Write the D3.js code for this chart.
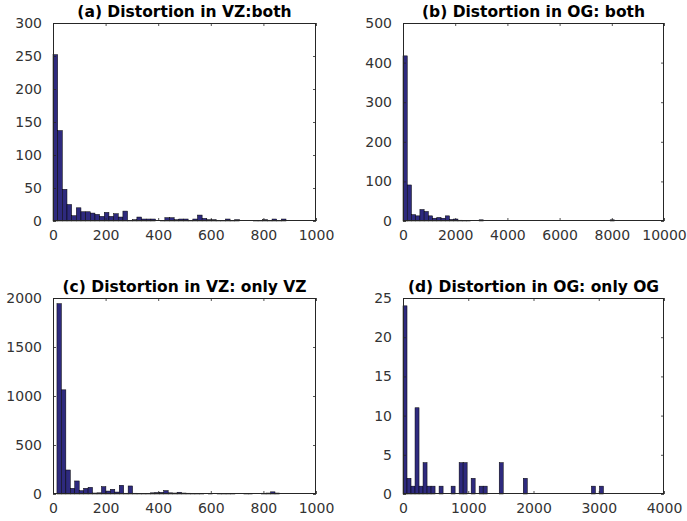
<!DOCTYPE html>
<html>
<head>
<meta charset="utf-8">
<script src="https://cdn.jsdelivr.net/npm/d3@7"></script>
<style>
  html, body { margin: 0; padding: 0; background: #fff; }
  svg { display: block; }
</style>
</head>
<body>
<svg id="chart" width="687" height="521"></svg>
<script>
// Histogram counts (50 equal-width bins each), bin ranges and axis ticks.
const titleA = "(a) Distortion in VZ:both";
const countsA = [252,137,48,25,8,20,14,14,12,10,7,13,7,11,6,15,1,2,6,3,
                 3,3,0,1,5,5,2,3,3,1,3,9,4,2,2,1,1,3,1,2,
                 0,0,0,1,1,2,1,3,1,3];
const rangeA = [0, 886];
const xTicksA = [0, 200, 400, 600, 800, 1000];
const yTicksA = [0, 50, 100, 150, 200, 250, 300];

const titleB = "(b) Distortion in OG: both";
const countsB = [417,91,16,13,29,24,13,7,9,7,13,4,5,2,1,1,0,0,3,0,
                 0,0,0,0,0,0,0,0,0,0,0,0,0,0,0,0,0,0,0,0,
                 0,0,0,0,0,0,0,0,0,3];
const rangeB = [0, 8100];
const xTicksB = [0, 2000, 4000, 6000, 8000, 10000];
const yTicksB = [0, 100, 200, 300, 400, 500];

const titleC = "(c) Distortion in VZ: only VZ";
const countsC = [1942,1063,245,58,133,34,58,68,10,12,75,30,48,20,89,8,82,8,5,5,
                 6,12,15,17,35,12,10,18,10,8,7,7,7,0,3,0,7,7,7,7,
                 0,0,6,6,0,0,8,10,22,10];
const rangeC = [15, 861];
const xTicksC = [0, 200, 400, 600, 800, 1000];
const yTicksC = [0, 500, 1000, 1500, 2000];

const titleD = "(d) Distortion in OG: only OG";
const countsD = [24,2,1,11,1,4,1,1,0,1,0,0,1,0,4,4,0,2,0,1,
                 1,0,0,0,4,0,0,0,0,0,2,0,0,0,0,0,0,0,0,0,
                 0,0,0,0,0,0,0,1,0,1];
const rangeD = [0, 3072];
const xTicksD = [0, 1000, 2000, 3000, 4000];
const yTicksD = [0, 5, 10, 15, 20, 25];

const panels = [
  { title: titleA, counts: countsA, range: rangeA, xTicks: xTicksA, yTicks: yTicksA,
    box: { left: 53, top: 23, right: 316, bottom: 221 } },
  { title: titleB, counts: countsB, range: rangeB, xTicks: xTicksB, yTicks: yTicksB,
    box: { left: 403, top: 23, right: 664, bottom: 221 } },
  { title: titleC, counts: countsC, range: rangeC, xTicks: xTicksC, yTicks: yTicksC,
    box: { left: 53, top: 298, right: 316, bottom: 494 } },
  { title: titleD, counts: countsD, range: rangeD, xTicks: xTicksD, yTicks: yTicksD,
    box: { left: 403, top: 298, right: 664, bottom: 494 } }
];

const svg = d3.select("#chart");
const FONT = "'DejaVu Sans', sans-serif";
const AXIS_COLOR = "#262626";
const LABEL_COLOR = "#333";
const BAR_FILL = "#2e2a7e";
const TICK = 3;

function drawPanel(p) {
  const b = p.box;
  const x = d3.scaleLinear()
    .domain([p.xTicks[0], p.xTicks[p.xTicks.length - 1]])
    .range([b.left, b.right]);
  const y = d3.scaleLinear()
    .domain([p.yTicks[0], p.yTicks[p.yTicks.length - 1]])
    .range([b.bottom, b.top]);

  const n = p.counts.length;
  const w = (p.range[1] - p.range[0]) / n;
  const bins = p.counts.map((c, i) => ({
    x0: p.range[0] + i * w,
    x1: p.range[0] + (i + 1) * w,
    count: c
  })).filter(d => d.count > 0);

  const g = svg.append("g");

  g.selectAll("rect.bar")
    .data(bins)
    .join("rect")
    .attr("class", "bar")
    .attr("x", d => x(d.x0))
    .attr("y", d => y(d.count))
    .attr("width", d => x(d.x1) - x(d.x0))
    .attr("height", d => y(0) - y(d.count))
    .attr("fill", BAR_FILL)
    .attr("stroke", "#000")
    .attr("stroke-width", 0.5);

  // Axes: ticks point inward and are mirrored on the top/right edges.
  const bottom = g.append("g")
    .attr("transform", `translate(0,${b.bottom})`)
    .call(d3.axisBottom(x).tickValues(p.xTicks).tickSizeInner(-TICK).tickSizeOuter(0).tickPadding(9).tickFormat(d3.format("d")));
  const top = g.append("g")
    .attr("transform", `translate(0,${b.top})`)
    .call(d3.axisTop(x).tickValues(p.xTicks).tickSizeInner(-TICK).tickSizeOuter(0).tickFormat(""));
  const left = g.append("g")
    .attr("transform", `translate(${b.left},0)`)
    .call(d3.axisLeft(y).tickValues(p.yTicks).tickSizeInner(-TICK).tickSizeOuter(0).tickPadding(11).tickFormat(d3.format("d")));
  const right = g.append("g")
    .attr("transform", `translate(${b.right},0)`)
    .call(d3.axisRight(y).tickValues(p.yTicks).tickSizeInner(-TICK).tickSizeOuter(0).tickFormat(""));

  [bottom, top, left, right].forEach(a => {
    a.select(".domain").remove();
    a.selectAll(".tick line").attr("stroke", AXIS_COLOR).attr("stroke-width", 0.8);
    a.selectAll(".tick text")
      .attr("fill", LABEL_COLOR)
      .style("font-family", FONT)
      .style("font-size", "14px");
  });

  // Axes box
  g.append("rect")
    .attr("x", b.left + 0.5)
    .attr("y", b.top + 0.5)
    .attr("width", b.right - b.left - 1)
    .attr("height", b.bottom - b.top - 1)
    .attr("fill", "none")
    .attr("stroke", AXIS_COLOR)
    .attr("stroke-width", 1);

  g.append("text")
    .attr("x", (b.left + b.right) / 2)
    .attr("y", b.top - 6)
    .attr("text-anchor", "middle")
    .attr("fill", "#000")
    .style("font-family", FONT)
    .style("font-weight", "bold")
    .style("font-size", "15.5px")
    .text(p.title);
}

panels.forEach(drawPanel);
</script>
</body>
</html>
